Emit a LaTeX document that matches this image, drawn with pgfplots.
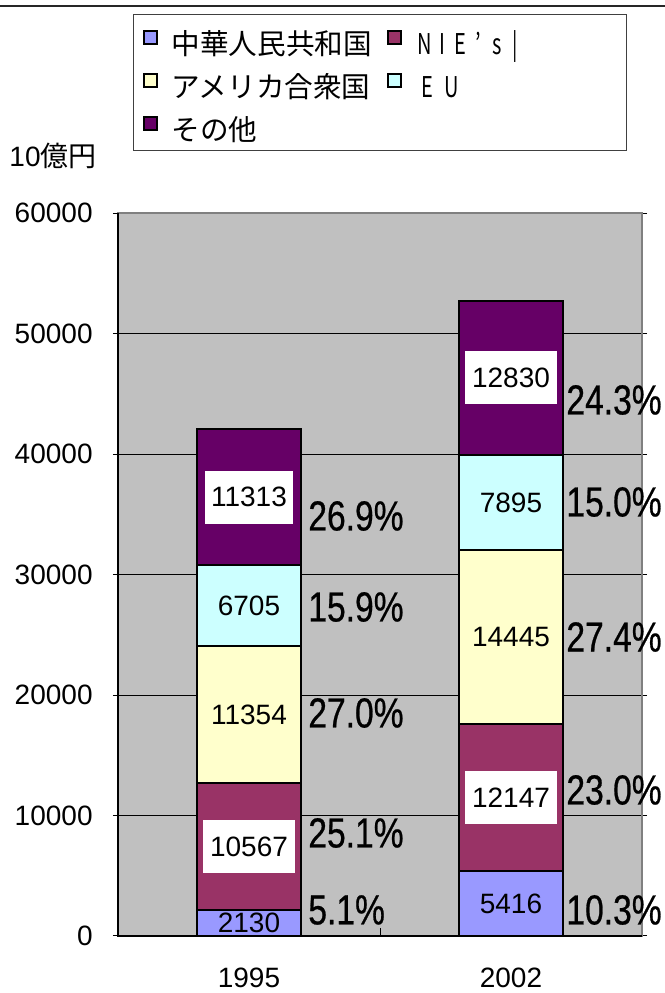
\documentclass[border=0pt]{standalone}
\usepackage{pgfplots}
\pgfplotsset{compat=1.18}
\usepackage{fontspec}
\setmainfont{Liberation Sans}
\newfontfamily\cjk{Noto Sans CJK JP}
\newfontfamily\cjkn[FakeStretch=0.7]{Noto Sans CJK JP}
\newfontfamily\pct[FakeStretch=0.8,FakeBold=0.6]{Liberation Sans}

\definecolor{china}{HTML}{9999FF}
\definecolor{nies}{HTML}{993366}
\definecolor{usa}{HTML}{FFFFCC}
\definecolor{eu}{HTML}{CCFFFF}
\definecolor{other}{HTML}{660066}
\definecolor{plotbg}{HTML}{C0C0C0}

% legend helpers
\newcommand{\ch}[2]{\makebox[#1][c]{#2}}
\newcommand{\rowstrut}{\rule[-5.5pt]{0pt}{22pt}}

\begin{document}
\begin{tikzpicture}
\useasboundingbox (0,0) rectangle (332.5pt,496.5pt);
\draw[black!85, line width=1pt] (0,493.5pt) -- (332.5pt,493.5pt);
\node[anchor=east, inner sep=0pt, font=\fontsize{14}{16}\selectfont] at (48.5pt,418.5pt) {10{\cjk 億円}};

\begin{axis}[
  at={(59pt,28.5pt)}, anchor=south west,
  scale only axis, width=262pt, height=361.5pt,
  ybar stacked, bar width=0.4,
  xmin=0.5, xmax=2.5, ymin=0, ymax=60000,
  clip=false,
  axis background/.style={fill=plotbg},
  axis line style={draw=black!50, line width=1pt},
  xtick={1,2}, xticklabels={1995,2002},
  xtick style={draw=none},
  ytick={0,10000,...,60000},
  ytick style={draw=black, line width=0.5pt},
  tick align=outside, major tick length=2.5pt,
  scaled y ticks=false,
  /pgf/number format/1000 sep={},
  /pgf/number format/assume math mode=true,
  tick label style={font=\fontsize{14}{16}\selectfont},
  yticklabel style={inner sep=0pt, xshift=-10pt},
  xticklabel style={inner sep=0pt, yshift=-13.5pt},
  ymajorgrids, major grid style={black, line width=0.5pt},
  legend image code/.code={\draw[#1,draw=black,line width=1pt] (0pt,-2pt) rectangle (6.5pt,4.5pt);},
  legend columns=2,
  legend cell align=left,
  legend style={at={(0.0286,1.2753)}, anchor=north west,
    draw=black!75, line width=0.75pt, fill=white,
    font=\cjk\fontsize{14.3}{16}\selectfont,
    inner xsep=4.5pt, inner ysep=3.5pt, row sep=3.5pt,
    nodes={inner sep=0pt},
    /tikz/every odd column/.append style={column sep=7pt},
    /tikz/every even column/.append style={column sep=0pt}},
]
\addplot[fill=china, draw=black, line width=1pt]
  coordinates {(1,2130) (2,5416)};
\addlegendentry{\makebox[107.5pt][l]{中華人民共和国\rowstrut}}
\addplot[fill=nies, draw=black, line width=1pt]
  coordinates {(1,10567) (2,12147)};
\addlegendentry{\makebox[101pt][l]{\cjkn\ch{9pt}{N}\ch{9pt}{I}\ch{9pt}{E}\ch{9pt}{’}\ch{9pt}{s}\ch{9pt}{|}\rowstrut}}
\addplot[fill=usa, draw=black, line width=1pt]
  coordinates {(1,11354) (2,14445)};
\addlegendentry{\makebox[107.5pt][l]{アメリカ合衆国\rowstrut}}
\addplot[fill=eu, draw=black, line width=1pt]
  coordinates {(1,6705) (2,7895)};
\addlegendentry{\makebox[101pt][l]{\cjkn\ch{12pt}{E}\ch{12pt}{U}\rowstrut}}
\addplot[fill=other, draw=black, line width=1pt]
  coordinates {(1,11313) (2,12830)};
\addlegendentry{\makebox[107.5pt][l]{その他\rowstrut}}

% anchor points for labels drawn after the axis (segment centres)
\coordinate (a1) at (axis cs:1,1065);
\coordinate (a2) at (axis cs:1,7413.5);
\coordinate (a3) at (axis cs:1,18374);
\coordinate (a4) at (axis cs:1,27403.5);
\coordinate (a5) at (axis cs:1,36412.5);
\coordinate (b1) at (axis cs:2,2708);
\coordinate (b2) at (axis cs:2,11489.5);
\coordinate (b3) at (axis cs:2,24785.5);
\coordinate (b4) at (axis cs:2,35955.5);
\coordinate (b5) at (axis cs:2,46318);
\coordinate (tk) at (axis cs:1.5,0);
\coordinate (ll) at (rel axis cs:0,0);
\coordinate (ul) at (rel axis cs:0,1);
\coordinate (lr) at (rel axis cs:1,0);

% shares
\node[anchor=west, inner sep=0pt, font=\pct\fontsize{21}{21}\selectfont] at (axis cs:1.225,2158) {5.1\%};
\node[anchor=west, inner sep=0pt, font=\pct\fontsize{21}{21}\selectfont] at (axis cs:1.225,8548) {25.1\%};
\node[anchor=west, inner sep=0pt, font=\pct\fontsize{21}{21}\selectfont] at (axis cs:1.225,18506) {27.0\%};
\node[anchor=west, inner sep=0pt, font=\pct\fontsize{21}{21}\selectfont] at (axis cs:1.225,27303) {15.9\%};
\node[anchor=west, inner sep=0pt, font=\pct\fontsize{21}{21}\selectfont] at (axis cs:1.225,34855) {26.9\%};
\node[anchor=west, inner sep=0pt, font=\pct\fontsize{21}{21}\selectfont] at (axis cs:2.21,2158) {10.3\%};
\node[anchor=west, inner sep=0pt, font=\pct\fontsize{21}{21}\selectfont] at (axis cs:2.21,12116) {23.0\%};
\node[anchor=west, inner sep=0pt, font=\pct\fontsize{21}{21}\selectfont] at (axis cs:2.21,24813) {27.4\%};
\node[anchor=west, inner sep=0pt, font=\pct\fontsize{21}{21}\selectfont] at (axis cs:2.21,36017) {15.0\%};
\node[anchor=west, inner sep=0pt, font=\pct\fontsize{21}{21}\selectfont] at (axis cs:2.21,44482) {24.3\%};
\end{axis}

% left and bottom axis lines in black, tick between the categories
\draw[black, line width=1pt] (ul) -- (ll) -- (lr);
\draw[black, line width=0.5pt] (tk) -- ++(0,4pt);

% value labels
\tikzset{vl/.style={font=\fontsize{14}{16}\selectfont, inner sep=0pt},
         vw/.style={vl, fill=white, inner xsep=3.3pt, minimum height=26.5pt}}
\node[vl] at (a1) {2130};
\node[vw] at (a2) {10567};
\node[vl] at (a3) {11354};
\node[vl] at (a4) {6705};
\node[vw] at (a5) {11313};
\node[vl] at (b1) {5416};
\node[vw] at (b2) {12147};
\node[vl] at (b3) {14445};
\node[vl] at (b4) {7895};
\node[vw] at (b5) {12830};
\end{tikzpicture}
\end{document}
